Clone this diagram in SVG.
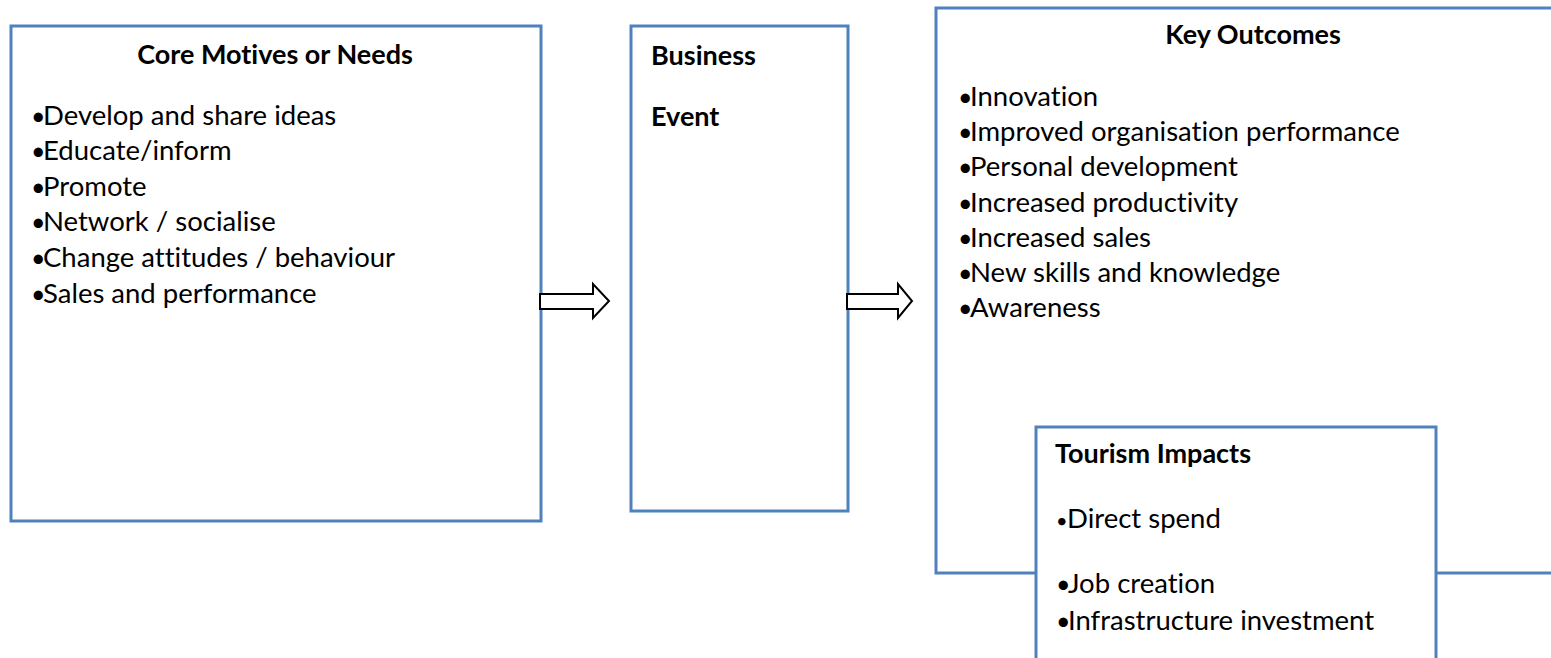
<svg xmlns="http://www.w3.org/2000/svg" width="1551" height="658" viewBox="0 0 1551 658">
  <style>
    .box { fill: #ffffff; stroke: #4f81bd; stroke-width: 3; }
    .title { font-family: Lato, "Liberation Sans", sans-serif; font-weight: bold; font-size: 27px; fill: #000000; font-variant-ligatures: none; }
    .item { font-family: Lato, "Liberation Sans", sans-serif; font-size: 27.5px; fill: #000000; font-variant-ligatures: none; }
    .bullet { font-size: 25px; }
    .small-bullet { font-size: 20px; }
    .blockarrow { fill: #ffffff; stroke: #000000; stroke-width: 2; stroke-linejoin: miter; }
  </style>
  <rect width="1551" height="658" fill="#ffffff"/>

  <!-- Motives -->
  <g id="motives">
    <rect class="box" x="11" y="26" width="530" height="495"/>
    <text class="title" x="275" y="64" text-anchor="middle">Core Motives or Needs</text>
    <text class="item" x="31" y="125"><tspan class="bullet">•</tspan><tspan x="43">Develop and share ideas</tspan></text>
    <text class="item" x="31" y="160"><tspan class="bullet">•</tspan><tspan x="43">Educate/inform</tspan></text>
    <text class="item" x="31" y="196"><tspan class="bullet">•</tspan><tspan x="43">Promote</tspan></text>
    <text class="item" x="31" y="231"><tspan class="bullet">•</tspan><tspan x="43">Network / socialise</tspan></text>
    <text class="item" x="31" y="267"><tspan class="bullet">•</tspan><tspan x="43">Change attitudes / behaviour</tspan></text>
    <text class="item" x="31" y="303"><tspan class="bullet">•</tspan><tspan x="43">Sales and performance</tspan></text>
  </g>

  <!-- Event -->
  <g id="event">
    <rect class="box" x="631" y="26" width="217" height="485"/>
    <text class="title" x="651" y="65">Business</text>
    <text class="title" x="651" y="126">Event</text>
  </g>

  <!-- Outcomes -->
  <g id="outcomes">
    <rect class="box" x="936" y="8" width="700" height="565"/>
    <text class="title" x="1253" y="44" text-anchor="middle">Key Outcomes</text>
    <text class="item" x="958" y="106"><tspan class="bullet">•</tspan><tspan x="970">Innovation</tspan></text>
    <text class="item" x="958" y="141"><tspan class="bullet">•</tspan><tspan x="970">Improved organisation performance</tspan></text>
    <text class="item" x="958" y="176"><tspan class="bullet">•</tspan><tspan x="970">Personal development</tspan></text>
    <text class="item" x="958" y="212"><tspan class="bullet">•</tspan><tspan x="970">Increased productivity</tspan></text>
    <text class="item" x="958" y="247"><tspan class="bullet">•</tspan><tspan x="970">Increased sales</tspan></text>
    <text class="item" x="958" y="282"><tspan class="bullet">•</tspan><tspan x="970">New skills and knowledge</tspan></text>
    <text class="item" x="958" y="317"><tspan class="bullet">•</tspan><tspan x="970">Awareness</tspan></text>
  </g>

  <!-- Tourism impacts -->
  <g id="tourism">
    <rect class="box" x="1036" y="427" width="400" height="300"/>
    <text class="title" x="1055" y="463">Tourism Impacts</text>
    <text class="item" x="1056" y="528"><tspan class="small-bullet">•</tspan><tspan x="1067">Direct spend</tspan></text>
    <text class="item" x="1056" y="593"><tspan class="bullet">•</tspan><tspan x="1068">Job creation</tspan></text>
    <text class="item" x="1056" y="630"><tspan class="bullet">•</tspan><tspan x="1068">Infrastructure investment</tspan></text>
  </g>

  <!-- Block arrows -->
  <g id="connectors">
    <path class="blockarrow" d="M540,294 H593 V284 L609,301 L593,318 V309 H540 Z"/>
    <path class="blockarrow" d="M847,294 H898 V284 L912,301 L898,318 V309 H847 Z"/>
  </g>
</svg>
